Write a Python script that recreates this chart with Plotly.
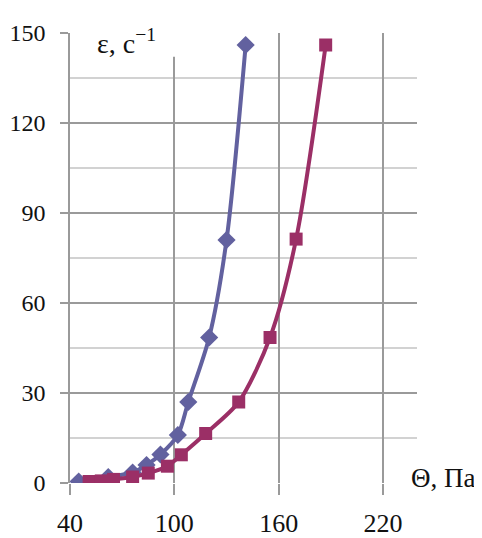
import plotly.graph_objects as go

# Data
blue_x = [45, 62, 76, 84, 92, 102, 108, 120, 130, 141]
blue_y = [0.5, 2, 3.5, 6, 9.5, 16, 27, 48.5, 81, 146]
red_x = [51, 58, 65, 76, 85, 96, 104, 118, 137, 155, 170, 187]
red_y = [0.5, 0.7, 1.2, 2, 3.3, 5.6, 9.4, 16.5, 27, 48.5, 81.3, 146]

x_ticks = [40, 100, 160, 220]
y_ticks = [0, 30, 60, 90, 120, 150]

BLUE = "#62619F"
RED = "#9B2F66"
FONT = "Liberation Serif"

fig = go.Figure()
fig.add_trace(go.Scatter(
    x=blue_x, y=blue_y, mode="lines+markers",
    line=dict(color=BLUE, width=4, shape="spline", smoothing=0.8),
    marker=dict(symbol="diamond", size=14, color=BLUE),
    showlegend=False))
fig.add_trace(go.Scatter(
    x=red_x, y=red_y, mode="lines+markers",
    line=dict(color=RED, width=4, shape="spline", smoothing=0.8),
    marker=dict(symbol="square", size=13, color=RED),
    showlegend=False))

# the page body has an 8px margin, so the figure is sized to fit the window
fig.update_layout(
    width=474, height=530,
    margin=dict(l=62, r=65, t=25, b=55, autoexpand=False),
    paper_bgcolor="white", plot_bgcolor="white",
    font=dict(family=FONT, size=24, color="#111"),
    xaxis=dict(range=[40, 239.5], tickvals=x_ticks, showgrid=True,
               gridcolor="#9a9a9a", gridwidth=1.5, zeroline=False,
               showline=False, ticks="outside", ticklen=11,
               tickcolor="#9a9a9a", tickwidth=1.5, ticklabelstandoff=6,
               tickfont=dict(size=26), automargin=False),
    yaxis=dict(range=[0, 150], tickvals=y_ticks, showgrid=True,
               gridcolor="#9a9a9a", gridwidth=1.5, zeroline=False,
               showline=True, linecolor="#9a9a9a", linewidth=1.5,
               ticks="outside", ticklen=8, tickcolor="#9a9a9a", tickwidth=1.5,
               ticklabelstandoff=10, tickfont=dict(size=24), automargin=False,
               minor=dict(dtick=15, tick0=0, showgrid=True,
                          gridcolor="#d2d2d2", gridwidth=1.5)),
)

# white boxes behind the axis titles (they interrupt the gridlines)
fig.add_shape(type="rect", xref="paper", yref="paper", layer="above",
              x0=0.02, x1=0.346, y0=0.947, y1=1.05,
              line=dict(width=0), fillcolor="white")
fig.add_shape(type="rect", xref="paper", yref="paper", layer="above",
              x0=0.921, x1=1.19, y0=-0.02, y1=0.045,
              line=dict(width=0), fillcolor="white")

fig.add_annotation(xref="paper", yref="paper", x=0.163, y=0.982,
                   text="ε, c<sup>−1</sup>", showarrow=False,
                   xanchor="center", yanchor="middle",
                   font=dict(family=FONT, size=28, color="#111"))
fig.add_annotation(xref="paper", yref="paper", x=1.075, y=0.012,
                   text="Θ, Па", showarrow=False,
                   xanchor="center", yanchor="middle",
                   font=dict(family=FONT, size=27, color="#111"))

fig.write_html("out.html")
